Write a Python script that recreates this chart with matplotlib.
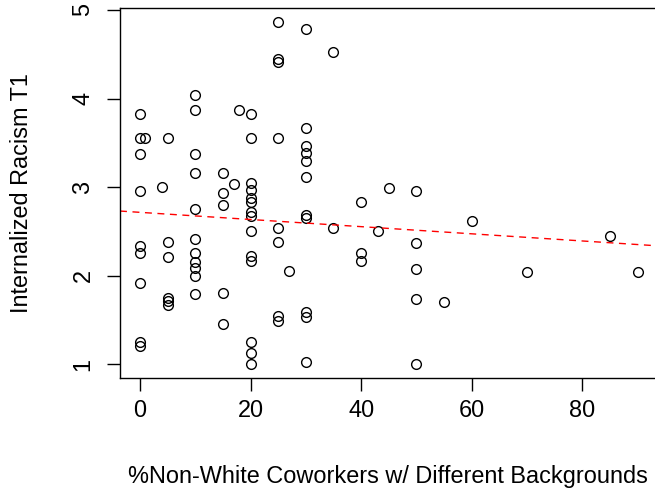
import numpy as np
import matplotlib
matplotlib.use("Agg")
import matplotlib.pyplot as plt

plt.rcParams['font.family'] = ['Liberation Sans', 'DejaVu Sans']

# % non-white coworkers (x) and internalized racism at T1 (y)
coworkers = [0, 0, 0, 0, 0, 0, 0, 0, 0,
             1, 4,
             5, 5, 5, 5, 5, 5,
             10, 10, 10, 10, 10, 10, 10, 10, 10, 10, 10,
             15, 15, 15, 15, 15, 17, 18,
             20, 20, 20, 20, 20, 20, 20, 20, 20, 20, 20, 20, 20, 20,
             25, 25, 25, 25, 25, 25, 25, 25, 27,
             30, 30, 30, 30, 30, 30, 30, 30, 30, 30, 30,
             35, 35, 40, 40, 40, 43, 45,
             50, 50, 50, 50, 50, 55, 60, 70, 85, 90]
racism = [3.83, 3.55, 3.37, 2.96, 2.33, 2.26, 1.92, 1.25, 1.21,
          3.55, 3.00,
          3.55, 2.38, 2.21, 1.75, 1.71, 1.67,
          4.04, 3.87, 3.37, 3.16, 2.75, 2.41, 2.26, 2.16, 2.09, 2.00, 1.79,
          3.16, 2.93, 2.80, 1.80, 1.46, 3.04, 3.87,
          3.83, 3.55, 3.05, 2.97, 2.88, 2.83, 2.72, 2.67, 2.50, 2.22, 2.17, 1.25, 1.13, 1.00,
          4.87, 4.45, 4.41, 3.55, 2.54, 2.38, 1.54, 1.49, 2.05,
          4.79, 3.67, 3.46, 3.38, 3.29, 3.12, 2.69, 2.65, 1.59, 1.53, 1.03,
          4.53, 2.54, 2.83, 2.26, 2.17, 2.50, 2.99,
          2.96, 2.37, 2.08, 1.74, 1.00, 1.70, 2.62, 2.04, 2.45, 2.04]

x = np.array(coworkers, dtype=float)
y = np.array(racism)

fig = plt.figure(figsize=(6.55, 4.99), dpi=100)
ax = fig.add_axes([120/655, 121/499, 537.6/655, 370/499])

ax.plot(x, y, 'o', mfc='none', mec='black', ms=7.0, mew=1.0)

# least squares line, like abline(lm(y ~ x))
b, a = np.polyfit(x, y, 1)
ax.axline((0, a), slope=b, color='red', lw=1.0, ls=(0, (5, 4)))

ax.set_xlim(-3.6, 93.6)
ax.set_ylim(0.845, 5.0225)
ax.set_xticks([0, 20, 40, 60, 80])
ax.set_yticks([1, 2, 3, 4, 5])
ax.tick_params(axis='both', direction='out', length=9.4, width=1.0, labelsize=16.9)
ax.tick_params(axis='x', pad=6)
ax.tick_params(axis='y', labelrotation=90, pad=9)
for lab in ax.get_yticklabels():
    lab.set_va('center')
for s in ax.spines.values():
    s.set_linewidth(1.0)

ax.set_xlabel('%Non-White Coworkers w/ Different Backgrounds', fontsize=16.9, va='center')
ax.set_ylabel('Internalized Racism T1', fontsize=16.9, va='center')
ax.xaxis.set_label_coords(0.4985, (378 - 477) / 370)
ax.yaxis.set_label_coords((22 - 120) / 537.6, 0.5)

fig.savefig('out.png', dpi=100)
